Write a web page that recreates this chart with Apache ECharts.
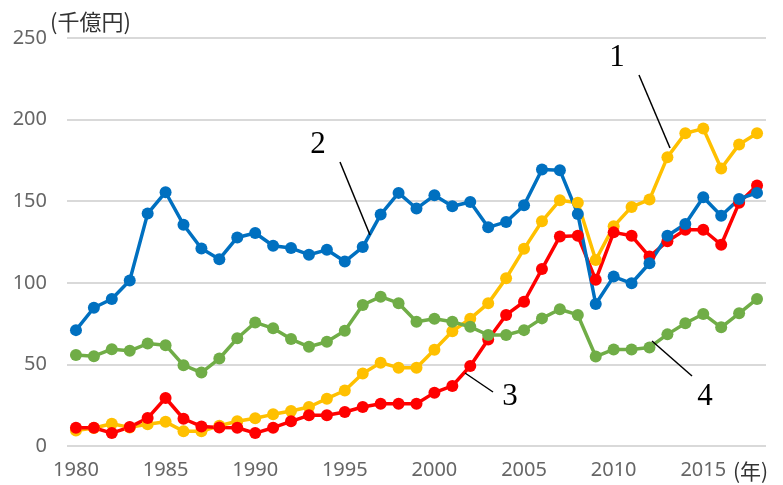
<!DOCTYPE html>
<html>
<head>
<meta charset="utf-8">
<script src="https://cdn.jsdelivr.net/npm/echarts@6/dist/echarts.min.js"></script>
<style>
html,body{margin:0;padding:0;background:#fff;}
#chart{width:783px;height:485px;}
</style>
</head>
<body>
<div id="chart"></div>
<script>
const years = [];
for (let y = 1980; y <= 2018; y++) years.push(String(y));

const yTicks = [0, 50, 100, 150, 200, 250];

// Series 1 (yellow)
const series1 = [9.5, 11, 13.6, 11.4, 13.3, 14.8, 9, 9, 12.4, 15.2, 17, 19.4, 21.4, 23.9, 29, 34, 44.4, 51, 48, 48, 59, 70.3, 78, 87.4, 102.8, 120.8, 137.7, 150.6, 149, 114, 134.6, 146.5, 151, 177, 191.6, 194.5, 170, 184.8, 191.6];
// Series 2 (blue)
const series2 = [71, 84.7, 90.1, 101.4, 142.4, 155.5, 135.6, 121, 114.5, 127.8, 130.5, 122.7, 121.3, 117.2, 120.2, 113, 121.9, 141.8, 155.1, 145.5, 153.6, 146.9, 149.5, 134, 137.3, 147.5, 169.4, 169, 142.2, 87, 103.8, 99.7, 112, 128.8, 136, 152.4, 141.1, 151.4, 155.1];
// Series 3 (red)
const series3 = [11.2, 11.2, 7.9, 11.6, 17.1, 29.4, 16.7, 12, 11.4, 11.2, 7.9, 11.2, 15.1, 18.8, 18.8, 20.8, 23.9, 25.9, 25.9, 25.9, 32.7, 36.8, 49, 65.3, 80.3, 88.4, 108.4, 128.4, 128.8, 101.8, 130.9, 128.8, 116.1, 125.4, 132.5, 132.5, 123.3, 149, 159.6];
// Series 4 (green)
const series4 = [55.7, 55, 59.3, 58.3, 62.8, 61.8, 49.5, 45, 53.6, 66, 75.7, 72.1, 65.5, 60.8, 63.9, 70.6, 86.4, 91.5, 87.5, 76.1, 78, 76.1, 73, 68, 68, 71, 78.2, 83.8, 80.3, 54.8, 59.2, 59.2, 60.4, 68.4, 75.2, 80.9, 72.7, 81.3, 90.1];

const seriesNames = ['1', '3', '2', '4'];
const yUnit = '(千億円)';
const xUnit = '(年)';

const chart = echarts.init(document.getElementById('chart'), null, {renderer: 'canvas'});

const labelFont = '"Noto Sans", "Noto Sans CJK JP", sans-serif';
const annFont = '"Liberation Serif", "DejaVu Serif", serif';

function lineSeries(name, data, color) {
  return {
    name: name,
    type: 'line',
    data: data,
    symbol: 'circle',
    symbolSize: 12,
    showAllSymbol: true,
    lineStyle: {color: color, width: 3.5},
    itemStyle: {color: color},
    emphasis: {disabled: true},
    animation: false
  };
}

function annotation(tx, ty, label, x1, y1, x2, y2) {
  return [
    {type: 'line', shape: {x1: x1, y1: y1, x2: x2, y2: y2}, style: {stroke: '#000', lineWidth: 1.5}, z: 100},
    {type: 'text', x: tx, y: ty, style: {text: label, font: '31px ' + annFont, fill: '#000', align: 'center', verticalAlign: 'middle'}, z: 100}
  ];
}

const option = {
  backgroundColor: '#fff',
  animation: false,
  grid: {left: 67, right: 17, top: 38, bottom: 39, containLabel: false},
  xAxis: {
    type: 'category',
    data: years,
    boundaryGap: true,
    axisLine: {show: false},
    axisTick: {show: false},
    axisLabel: {interval: 4, color: '#666666', fontSize: 20, fontFamily: labelFont, margin: 14}
  },
  yAxis: {
    type: 'value',
    min: yTicks[0],
    max: yTicks[yTicks.length - 1],
    interval: 50,
    axisLine: {show: false},
    axisTick: {show: false},
    axisLabel: {color: '#666666', fontSize: 20, fontFamily: labelFont, margin: 20},
    splitLine: {lineStyle: {color: '#d9d9d9', width: 2}}
  },
  series: [
    lineSeries(seriesNames[0], series1, '#FFC000'),
    lineSeries(seriesNames[1], series3, '#FF0000'),
    lineSeries(seriesNames[2], series2, '#0070C0'),
    lineSeries(seriesNames[3], series4, '#70AD47')
  ],
  graphic: [
    {type: 'text', x: 50, y: 22, style: {text: yUnit, font: '22px "Noto Sans CJK JP", sans-serif', fill: '#333', align: 'left', verticalAlign: 'middle'}},
    {type: 'text', x: 733, y: 471, style: {text: xUnit, font: '21px "Noto Sans CJK JP", sans-serif', fill: '#333', align: 'left', verticalAlign: 'middle'}}
  ].concat(
    annotation(617, 58, '1', 639, 75, 670, 148),
    annotation(318, 145, '2', 340, 162, 370, 235),
    annotation(510, 397, '3', 465, 373, 493, 392),
    annotation(705, 397, '4', 652, 341, 692, 376)
  )
};

chart.setOption(option);
</script>
</body>
</html>
